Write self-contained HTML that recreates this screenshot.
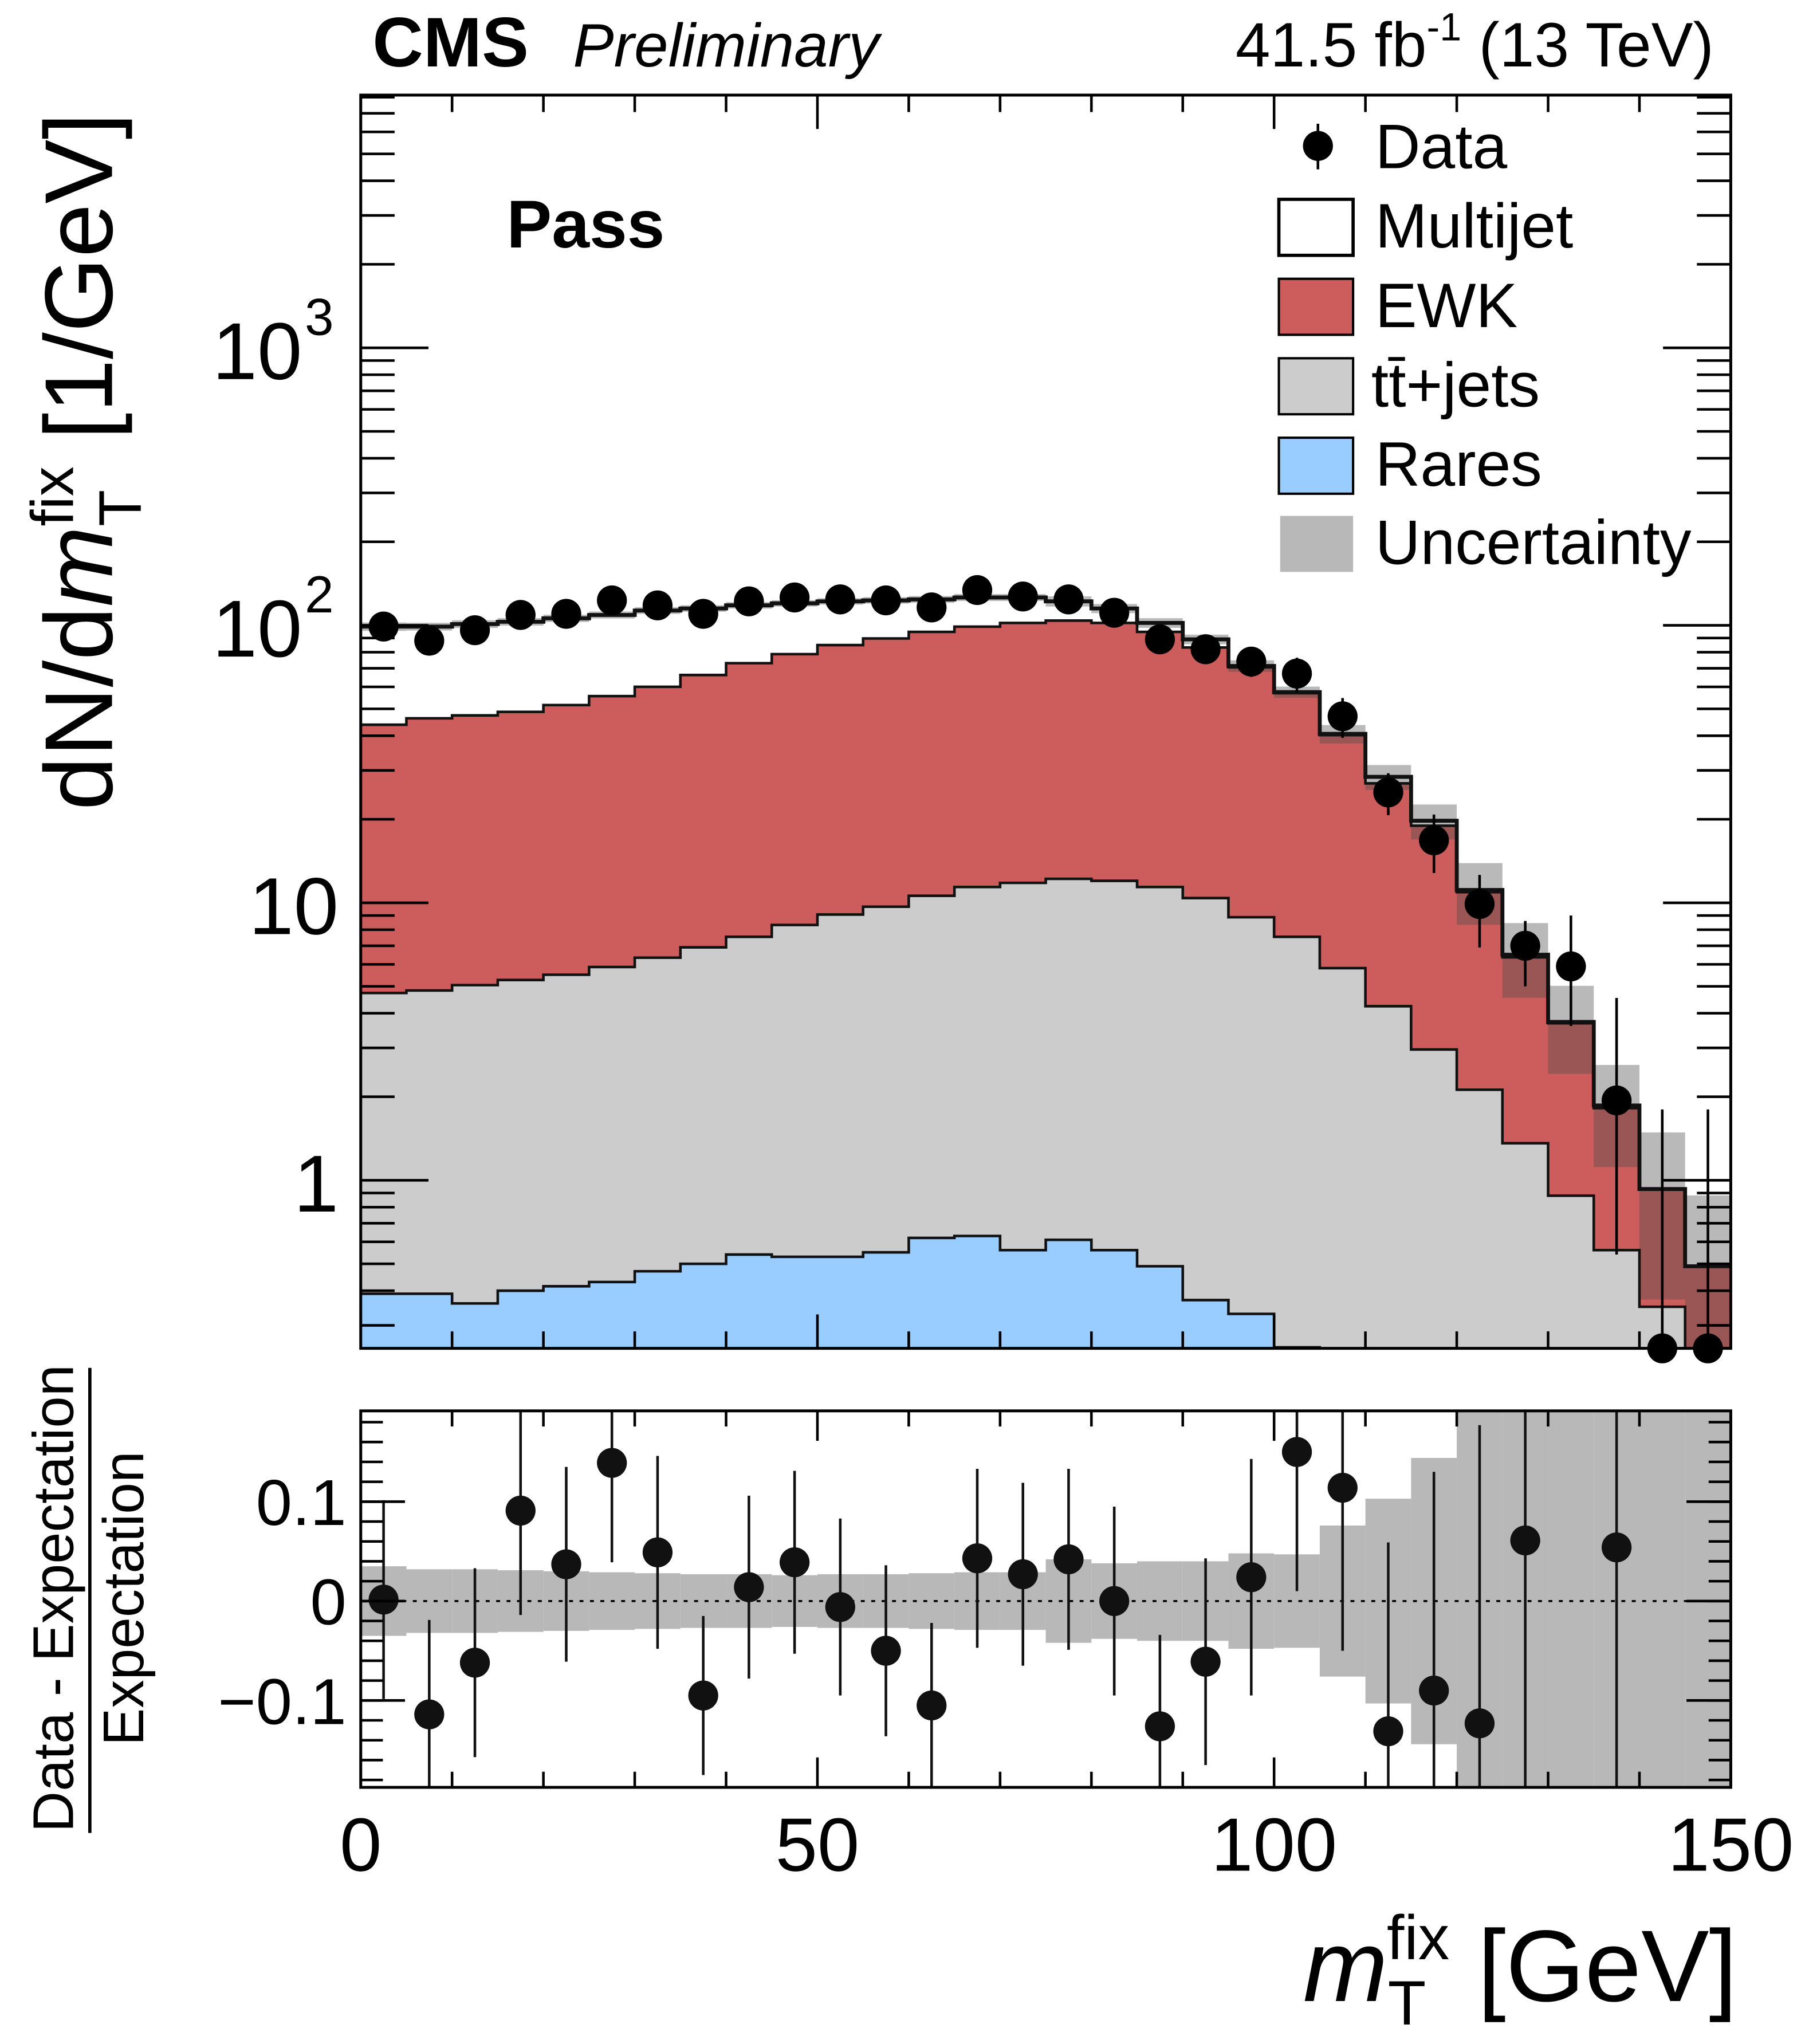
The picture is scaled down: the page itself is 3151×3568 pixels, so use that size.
<!DOCTYPE html>
<html style="margin:0;padding:0;width:3151px;height:3568px;overflow:hidden;"><head><meta charset="utf-8"><style>
html,body{margin:0;padding:0;background:#fff;width:3151px;height:3568px;overflow:hidden;}
svg{display:block;overflow:hidden;position:absolute;left:0;top:0;}
text{font-family:"Liberation Sans",sans-serif;fill:#000;}
</style></head><body>
<svg id="chart" xmlns="http://www.w3.org/2000/svg" width="3151" height="3568" viewBox="0 0 1386 1569" preserveAspectRatio="none">
<defs>
<clipPath id="mainClip"><rect x="277" y="73" width="1052" height="962"/></clipPath>
<clipPath id="ratioClip"><rect x="277" y="1083" width="1052" height="289"/></clipPath>
</defs>
<rect x="0" y="0" width="1386" height="1569" fill="#fff"/>
<g id="mainStack" clip-path="url(#mainClip)"></g>
<g id="mainUnc" clip-path="url(#mainClip)"></g>
<g id="mainLines" clip-path="url(#mainClip)"></g>
<g id="ratioBand" clip-path="url(#ratioClip)"></g>
<line x1="277" y1="1229" x2="1329" y2="1229" stroke="#000" stroke-width="1.6" stroke-dasharray="3,5"/>
<g id="ratioPts" clip-path="url(#ratioClip)"></g>
<g id="mainPts"></g>
<g id="axes"></g>
<rect x="277" y="73" width="1052" height="962" fill="none" stroke="#000" stroke-width="2.2"/>
<rect x="277" y="1083" width="1052" height="289" fill="none" stroke="#000" stroke-width="2.2"/>

<text x="286" y="51" font-size="54" font-weight="bold">CMS</text>
<text x="440" y="51" font-size="47" font-style="italic">Preliminary</text>
<text x="1316" y="51" font-size="48" text-anchor="end">41.5 fb<tspan font-size="30" dy="-20">-1</tspan><tspan dy="20"> (13 TeV)</tspan></text>
<text x="389" y="190" font-size="52" font-weight="bold">Pass</text>

<g>
<g>
<line x1="1012" y1="95" x2="1012" y2="130" stroke="#000" stroke-width="2"/>
<circle cx="1012" cy="112" r="11.5" fill="#000"/>
<text x="1056" y="129" font-size="48">Data</text></g>
<g>
<rect x="982" y="153" width="57" height="43" fill="#fff" stroke="#000" stroke-width="2.5"/>
<text x="1056" y="190" font-size="48">Multijet</text></g>
<g>
<rect x="982" y="214" width="57" height="43" fill="#cd5c5c" stroke="#000" stroke-width="1.8"/>
<text x="1056" y="251" font-size="48">EWK</text></g>
<g>
<rect x="982" y="275" width="57" height="43" fill="#cccccc" stroke="#000" stroke-width="1.8"/>
<text x="1053" y="312" font-size="48">tt̄+jets</text></g>
<g>
<rect x="982" y="336" width="57" height="43" fill="#99ccff" stroke="#000" stroke-width="1.8"/>
<text x="1056" y="373" font-size="48">Rares</text></g>
<g>
<rect x="983" y="396" width="56" height="43" fill="#b8b8b8"/>
<text x="1056" y="433" font-size="48">Uncertainty</text></g>
</g>

<text transform="translate(86,622) rotate(-90)" font-size="74">dN/d<tspan font-style="italic">m</tspan><tspan font-size="46" dy="22">T</tspan><tspan font-size="46" dx="-28" dy="-52">fix</tspan><tspan dy="30"> [1/GeV]</tspan></text>

<g>
<text transform="translate(56,1227) rotate(-90)" font-size="44" text-anchor="middle" textLength="359" lengthAdjust="spacingAndGlyphs">Data - Expectation</text>
<line x1="69" y1="1050" x2="69" y2="1407" stroke="#000" stroke-width="2.5"/>
<text transform="translate(110,1227) rotate(-90)" font-size="44" text-anchor="middle" textLength="226" lengthAdjust="spacingAndGlyphs">Expectation</text>
</g>

<text x="1334" y="1536" font-size="78" text-anchor="end"><tspan font-style="italic">m</tspan><tspan font-size="48" dy="18">T</tspan><tspan font-size="48" dx="-30" dy="-50">fix</tspan><tspan dy="32"> [GeV]</tspan></text>
</svg>

<script>
const binEdgesLow = [0,5,10,15,20,25,30,35,40,45,50,55,60,65,70,75,80,85,90,95,100,105,110,115,120,125,130,135,140,145];
const binWidth = 5;
const dataValues = [99,88,96,109,110,123,118,110,122,126,124,123,116,134,127,124,111,89,82,74,67,47,25,16.8,9.9,7.0,5.9,1.94,0,0];
const dataErrHi = [9.9,8.4,9.1,10.9,10.8,12.3,11.4,8.8,11.2,11.6,11,10.6,9.6,12,11.7,11.3,10.5,8.2,8.5,8.8,9.4,7.7,4.3,4.0,2.7,1.6,3.1,2.6,1.8,1.8];
const dataErrLo = [9.9,8.4,9.1,10.9,10.8,12.3,11.4,8.8,11.2,11.6,11,10.6,9.6,12,11.7,11.3,10.5,8.2,8.5,8.8,9.4,7.7,4.3,4.0,3.0,2.0,2.3,1.4,0,0];
const raresValues = [0.39,0.39,0.36,0.40,0.415,0.43,0.47,0.50,0.54,0.53,0.53,0.55,0.62,0.63,0.56,0.61,0.56,0.49,0.37,0.33,0.25,0.245,0,0,0,0,0,0,0,0];
const ttbarValues = [4.34,4.44,4.69,4.87,5.09,5.44,5.87,6.41,7.0,7.79,8.54,9.13,9.98,10.77,11.24,11.59,11.44,10.91,10.03,8.54,7.29,5.57,4.24,2.96,2.12,1.36,0.88,0.56,0.35,0.15];
const ewkValues = [39.1,41.4,42.3,43.5,46.1,49.7,53.7,59.3,65.5,70.4,75.8,80.0,84.1,87.5,90.2,91.8,90.0,83.3,72.8,61.7,49.4,34.4,22.7,16.0,8.8,5.0,2.8,1.26,0.58,0.34];
const multijetValues = [55.1,52.7,53.7,54.2,54.4,53.4,53,48.8,45,41.3,37.1,33.3,29.3,27.1,24,18,13,7.3,5.8,0.8,0.5,0.4,1.5,0.8,0.2,0.14,0.04,0.04,0,0];
const relUncertainty = [0.035,0.032,0.032,0.031,0.030,0.029,0.028,0.027,0.027,0.026,0.027,0.027,0.028,0.029,0.029,0.042,0.038,0.040,0.040,0.048,0.047,0.076,0.103,0.144,0.25,0.30,0.35,0.40,0.60,0.80];
const ratioValues = [0.0015,-0.114,-0.062,0.091,0.037,0.139,0.049,-0.095,0.014,0.039,-0.006,-0.050,-0.105,0.043,0.027,0.042,0,-0.126,-0.061,0.024,0.150,0.114,-0.131,-0.090,-0.123,0.061,null,0.054,null,null];
const ratioErr = [0.10,0.095,0.095,0.105,0.098,0.10,0.097,0.08,0.092,0.092,0.089,0.086,0.083,0.09,0.092,0.091,0.095,0.092,0.104,0.119,0.14,0.164,0.19,0.22,0.3,0.4,0.4,0.4,0.4,0.4];
const xTickMajor = [0,50,100,150];
const xTickLabels = ["0","50","100","150"];
const yMainDecades = [1,10,100,1000];
const ratioTickMajor = [-0.1,0,0.1];
const ratioTickLabels = ["\u22120.1","0","0.1"];

const NS="http://www.w3.org/2000/svg";
const X0=277,X1=1329,Y0=73,Y1=1035,RY0=1083,RY1=1372;
function xs(v){return X0+(v/150)*(X1-X0);}
function ys(v){ if(v<=0) return Y1+2; return 906-213*Math.log10(v);}
function ysC(v){return Math.min(Math.max(ys(v),Y0-2),Y1+2);}
function yr(v){return Math.min(Math.max(1229-763*v,RY0),RY1);}
function mk(tag,attrs,parent){const e=document.createElementNS(NS,tag);for(const k in attrs)e.setAttribute(k,attrs[k]);parent.appendChild(e);return e;}

const n=binEdgesLow.length;
const cumR=[],cumT=[],cumE=[],cumM=[];
for(let i=0;i<n;i++){cumR.push(raresValues[i]);cumT.push(cumR[i]+ttbarValues[i]);cumE.push(cumT[i]+ewkValues[i]);cumM.push(cumE[i]+multijetValues[i]);}
function stepPath(cum){let d="";for(let i=0;i<n;i++){const xa=xs(binEdgesLow[i]),xb=xs(binEdgesLow[i]+binWidth),y=ysC(cum[i]);d+=(i===0?"M"+xa+","+y:" L"+xa+","+y)+" L"+xb+","+y;}return d;}
function areaPath(cum){return stepPath(cum)+" L"+xs(150)+","+(Y1+2)+" L"+xs(0)+","+(Y1+2)+" Z";}

const st=document.getElementById('mainStack');
const layers=[[cumM,"#ffffff","stack-multijet"],[cumE,"#cd5c5c","stack-ewk"],[cumT,"#cccccc","stack-ttbar"],[cumR,"#99ccff","stack-rares"]];
for(const L of layers){
  const p=mk('path',{d:areaPath(L[0]),fill:L[1]},st);
  
  
}
const ug=document.getElementById('mainUnc');
for(let i=0;i<n;i++){
  const t=cumM[i],u=relUncertainty[i];
  const ya=ysC(t*(1+u)),yb=ysC(Math.max(t*(1-u),1e-6));
  const r=mk('rect',{x:xs(binEdgesLow[i]),y:ya,width:xs(binWidth)-X0,height:Math.max(yb-ya,0),fill:"#4a4a4a","fill-opacity":0.39},ug);
  
  
}
const lg=document.getElementById('mainLines');
const outl=[[cumR,2],[cumT,2],[cumE,2],[cumM,3]];
for(const L of outl){
  const p=mk('path',{d:stepPath(L[0]),fill:"none",stroke:"#111","stroke-width":L[1]},lg);
  
  
}

const mp=document.getElementById('mainPts');
for(let i=0;i<n;i++){
  const cx=xs(binEdgesLow[i]+binWidth/2);
  const v=dataValues[i];
  const cy=v>0?ys(v):Y1;
  const yh=Math.max(ys(v+dataErrHi[i]),Y0);
  const yl=v-dataErrLo[i]>0?Math.min(ys(v-dataErrLo[i]),Y1):Y1;
  const l=mk('line',{x1:cx,x2:cx,y1:yh,y2:yl,stroke:"#000","stroke-width":2},mp);
  
  
  const c=mk('circle',{cx:cx,cy:cy,r:11.5,fill:"#000"},mp);
  
  
}

const rb=document.getElementById('ratioBand');
for(let i=0;i<n;i++){
  const u=relUncertainty[i];
  const r=mk('rect',{x:xs(binEdgesLow[i]),y:yr(u),width:xs(binWidth)-X0,height:yr(-u)-yr(u),fill:"#b8b8b8"},rb);
  
  
}
const rp=document.getElementById('ratioPts');
for(let i=0;i<n;i++){
  const v=ratioValues[i]; if(v===null) continue;
  const cx=xs(binEdgesLow[i]+binWidth/2);
  const l=mk('line',{x1:cx,x2:cx,y1:yr(v+ratioErr[i]),y2:yr(v-ratioErr[i]),stroke:"#111","stroke-width":2},rp);
  
  
  const c=mk('circle',{cx:cx,cy:yr(v),r:11.5,fill:"#111"},rp);
  
  
}

const ax=document.getElementById('axes');
function tk(x1,y1,x2,y2){const l=mk('line',{x1:x1,y1:y1,x2:x2,y2:y2,stroke:"#000","stroke-width":2},ax);}
for(let v=0;v<=150;v+=10){
  const x=xs(v),maj=xTickMajor.indexOf(v)>=0;
  const hm=maj?26:13, hr=maj?23:12;
  tk(x,Y1,x,Y1-hm); tk(x,Y0,x,Y0+hm);
  tk(x,RY1,x,RY1-hr); tk(x,RY0,x,RY0+hr);
}
for(const d of [0.1,1,10,100,1000]){
  for(let m=1;m<=9;m++){
    const v=d*m;
    const y=906-213*Math.log10(v); if(y<Y0||y>Y1) continue;
    const len=m===1?52:26;
    tk(X0,y,X0+len,y); tk(X1,y,X1-len,y);
  }
}
for(let k=-9;k<=9;k++){
  const y=1229-763*k*0.02; if(y<RY0||y>RY1) continue;
  tk(X0,y,X0+17,y); tk(X1,y,X1-17,y);
}
for(const v of ratioTickMajor){const y=yr(v);tk(X0,y,X0+34,y);tk(X1,y,X1-34,y);}

for(let i=0;i<xTickMajor.length;i++){
  const t=mk('text',{x:xs(xTickMajor[i]),y:1436,"font-size":58,"text-anchor":"middle"},ax);
  t.textContent=xTickLabels[i];
  
  
}
for(let i=0;i<ratioTickMajor.length;i++){
  const t=mk('text',{x:266,y:yr(ratioTickMajor[i])+18,"font-size":50,"text-anchor":"end"},ax);
  t.textContent=ratioTickLabels[i];
  
  
}
const yLab=[["1",""],["10",""],["10","2"],["10","3"]];
for(let i=0;i<yMainDecades.length;i++){
  const y=ys(yMainDecades[i])+24;
  const t=mk('text',{x:yLab[i][1]?232:260,y:y,"font-size":62,"text-anchor":"end"},ax);
  t.textContent=yLab[i][0];
  
  
  if(yLab[i][1]){
    const s=mk('text',{x:234,y:y-34,"font-size":40},ax);
    s.textContent=yLab[i][1];
    
    
  }
}
</script>
</body></html>
